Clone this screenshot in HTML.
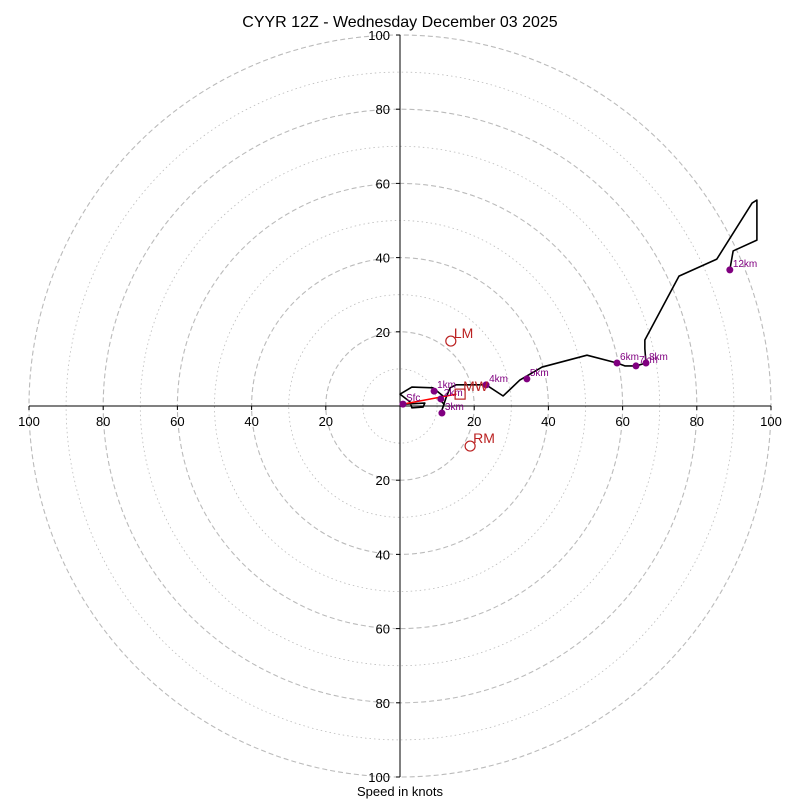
<!DOCTYPE html>
<html><head><meta charset="utf-8"><style>
body{margin:0;background:#fff}
svg{display:block;font-family:"Liberation Sans","DejaVu Sans",sans-serif}
</style></head><body>
<svg id="c" width="800" height="800">
<text x="400" y="27" text-anchor="middle" font-size="16">CYYR 12Z - Wednesday December 03 2025</text>
<g id="rings"></g><g id="axes"></g><g id="marks"></g>
<text x="400" y="796" text-anchor="middle" font-size="13">Speed in knots</text>
</svg>
<script>
const ringValues=[10,20,30,40,50,60,70,80,90,100];
const tickLabels=[20,40,60,80,100];
const hodoU=[0.8,6.7,6.2,3.2,2.7,0,3.2,8.9,11.6,10.8,11.9,11.3,12.4,13.5,15.1,23.2,27.8,32.3,38.3,50.4,58.5,60.6,63.6,66.3,66.0,66.0,75.2,85.4,94.9,96.2,96.2,89.8,88.9];
const hodoV=[0.5,0.8,-0.3,-0.5,1.1,3.2,5.1,4.9,2.7,1.6,0.5,-1.1,2.2,4.9,5.7,5.7,2.7,7.0,10.5,13.7,11.6,10.8,10.8,11.6,15.4,17.8,35.0,39.6,54.7,55.5,44.7,41.8,36.7];
const heightLabels=["Sfc","1km","2km","3km","4km","5km","6km","7km","8km","12km"];
const heightU=[0.8,9.2,11.0,11.3,23.2,34.2,58.5,63.6,66.3,88.9];
const heightV=[0.5,4.0,1.9,-1.9,5.7,7.3,11.6,10.8,11.6,36.7];
const motionLabels=["LM","RM","MW"];
const motionU=[13.7,18.9,16.2];
const motionV=[17.5,-10.8,3.2];
const cx=400,cy=406,k=3.71;
const X=u=>cx+u*k, Y=v=>cy-v*k;
const NS="http://www.w3.org/2000/svg";
function mk(p,t,a){const e=document.createElementNS(NS,t);for(const n in a)e.setAttribute(n,a[n]);p.appendChild(e);return e;}
const rings=document.getElementById('rings'),axes=document.getElementById('axes'),marks=document.getElementById('marks');
ringValues.forEach(r=>{const c=mk(rings,'circle',{cx:cx,cy:cy,r:r*k,fill:'none',stroke:'#bbb','stroke-width':r%20?0.8:1.1,'stroke-dasharray':r%20?'1.5,3':'5,3'});

});
const xa=mk(axes,'line',{x1:X(-100),y1:cy,x2:X(100),y2:cy,stroke:'#000','stroke-width':1});


const ya=mk(axes,'line',{x1:cx,y1:Y(100),x2:cx,y2:Y(-100),stroke:'#000','stroke-width':1});


tickLabels.forEach(t=>{[-1,1].forEach(s=>{
 const a=mk(axes,'text',{x:X(s*t),y:cy+20,'text-anchor':'middle','font-size':13});a.textContent=t;
 
 
 const b=mk(axes,'text',{x:cx-10,y:Y(s*t)+5,'text-anchor':'end','font-size':13});b.textContent=t;
 
 
 mk(axes,'line',{x1:X(s*t),y1:cy,x2:X(s*t),y2:cy+4,stroke:'#000'});
 mk(axes,'line',{x1:cx,y1:Y(s*t),x2:cx-4,y2:Y(s*t),stroke:'#000'});
});});
const hp=mk(marks,'polyline',{points:hodoU.map((u,i)=>X(u)+','+Y(hodoV[i])).join(' '),fill:'none',stroke:'#000','stroke-width':1.6,'stroke-linejoin':'round'});


const ar=mk(marks,'line',{x1:X(heightU[0]),y1:Y(heightV[0]),x2:X(motionU[2]-1),y2:Y(motionV[2]),stroke:'red','stroke-width':1.5});


heightU.forEach((u,i)=>{const d=mk(marks,'circle',{cx:X(u),cy:Y(heightV[i]),r:3.5,fill:'purple'});


const t=mk(marks,'text',{x:X(u)+3,y:Y(heightV[i])-3,'font-size':10,fill:'purple'});t.textContent=heightLabels[i];

});
motionU.forEach((u,i)=>{let e;
 if(i<2)e=mk(marks,'circle',{cx:X(u),cy:Y(motionV[i]),r:5,fill:'none',stroke:'#b22','stroke-width':1.2});
 else e=mk(marks,'rect',{x:X(u)-5,y:Y(motionV[i])-5,width:10,height:10,fill:'none',stroke:'#b22','stroke-width':1.2});
 
 
 const t=mk(marks,'text',{x:X(u)+3,y:Y(motionV[i])-3,'font-size':14,fill:'#b22'});t.textContent=motionLabels[i];
 
 });
</script>
</body></html>
